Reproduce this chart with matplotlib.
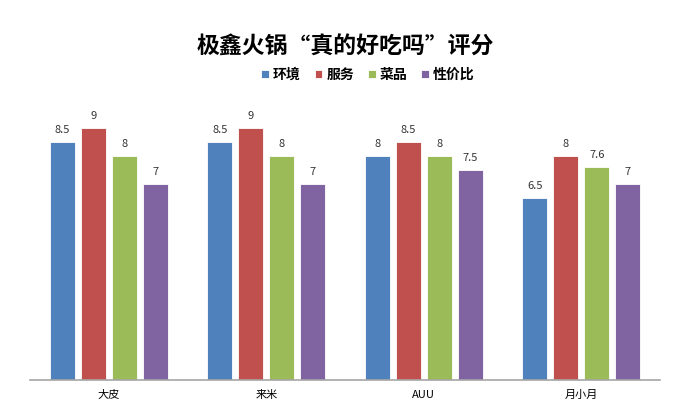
import numpy as np
import matplotlib
matplotlib.use('Agg')
import matplotlib.pyplot as plt

plt.rcParams['font.family'] = ['Noto Sans CJK SC', 'DejaVu Sans']

# 数据
categories = ['大皮', '来米', 'AUU', '月小月']
series_names = ['环境', '服务', '菜品', '性价比']
env = [8.5, 8.5, 8, 6.5]
service = [9, 9, 8.5, 8]
dishes = [8, 8, 8, 7.6]
value = [7, 7, 7.5, 7]
colors = ['#4F81BD', '#C0504D', '#9BBB59', '#8064A2']

fig = plt.figure(figsize=(6.76, 4.2), dpi=100)
ax = fig.add_axes([30 / 676, 40 / 420, 630 / 676, 280 / 420])

x = np.arange(len(categories))
width = 0.159
step = 0.197
for i, (name, vals) in enumerate(zip(series_names, [env, service, dishes, value])):
    pos = x + (i - 1.5) * step
    bars = ax.bar(pos, vals, width, color=colors[i], label=name,
                  edgecolor='white', linewidth=0.6)
    for b, v in zip(bars, vals):
        ax.text(b.get_x() + b.get_width() / 2, v + 0.25, f'{v:g}',
                ha='center', va='bottom', fontsize=8, color='#333333')

ax.set_xlim(-0.5, len(categories) - 0.5)
ax.set_ylim(0, 10)
ax.set_xticks(x)
ax.set_xticklabels(categories, fontsize=8)
ax.tick_params(axis='x', length=0, pad=7)
ax.set_yticks([])
for s in ['top', 'right', 'left']:
    ax.spines[s].set_visible(False)
ax.spines['bottom'].set_color('#A6A6A6')
ax.spines['bottom'].set_linewidth(1.2)

fig.text(345 / 676, 1 - 47 / 420, '极鑫火锅“真的好吃吗”评分', ha='center', va='center',
         fontsize=16.5, fontweight='bold')
fig.legend(loc='center', bbox_to_anchor=(368 / 676, 1 - 75 / 420), ncol=4,
           frameon=False, prop={'weight': 'bold', 'size': 10},
           handlelength=0.55, handleheight=0.55, handletextpad=0.3, columnspacing=1.0)

fig.savefig('out.png', dpi=100, facecolor='white')
